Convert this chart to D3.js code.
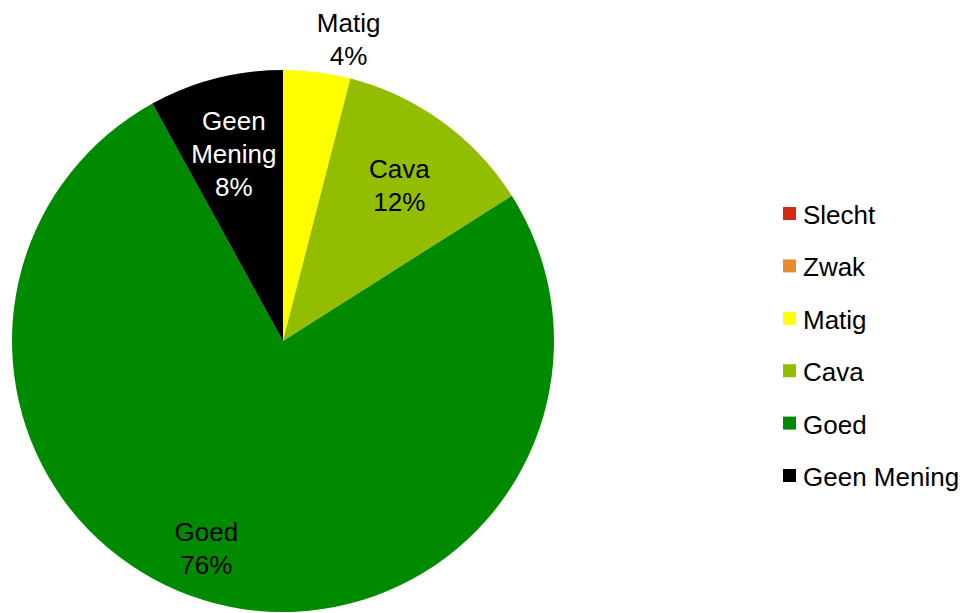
<!DOCTYPE html>
<html>
<head>
<meta charset="utf-8">
<script src="https://cdn.jsdelivr.net/npm/d3@7"></script>
<style>
  body { margin: 0; background: #fff; }
  text { font-family: "Liberation Sans", Arial, sans-serif; }
</style>
</head>
<body>
<script>
var width = 974,
    height = 613;

// data
var categories = ["Slecht", "Zwak", "Matig", "Cava", "Goed", "Geen Mening"];
var values = [0, 0, 4, 12, 76, 8];
var colors = ["#d42a12", "#e98a2c", "#ffff00", "#92bd00", "#008a00", "#000000"];
var labelColors = ["#000", "#000", "#000", "#000", "#000", "#fff"];

var data = categories.map(function(c, i) {
  return { name: c, value: values[i], color: colors[i], labelColor: labelColors[i] };
});

var cx = 283, cy = 341, radius = 271;

var svg = d3.select("body").append("svg")
    .attr("width", width)
    .attr("height", height);

var pie = d3.pie()
    .sort(null)
    .value(function(d) { return d.value; });

var arc = d3.arc()
    .innerRadius(0)
    .outerRadius(radius);

var outerArc = d3.arc()
    .innerRadius(radius + 5)
    .outerRadius(radius + 5);

var arcs = pie(data).filter(function(d) { return d.data.value > 0; });

var g = svg.append("g").attr("transform", "translate(" + cx + "," + cy + ")");

g.selectAll("path.slice")
  .data(arcs)
  .enter().append("path")
    .attr("class", "slice")
    .attr("d", arc)
    .attr("fill", function(d) { return d.data.color; });

var fontSize = 26, lineH = 33;
var total = d3.sum(values);

g.selectAll("text.label")
  .data(arcs)
  .enter().append("text")
    .attr("class", "label")
    .style("font-size", fontSize + "px")
    .attr("fill", function(d) { return d.data.labelColor; })
    .attr("text-anchor", "middle")
    .each(function(d) {
      var t = d3.select(this);
      var pct = Math.round(d.data.value / total * 100) + "%";
      var lines = d.data.name.split(" ").concat([pct]);
      var span = d.endAngle - d.startAngle;
      var x, y0;
      if (span < 0.4) {
        // small slice: label outside, box corner on the rim
        var p = outerArc.centroid(d);
        x = p[0] + 31;
        y0 = p[1] - 2 - (lines.length - 1) * lineH;
      } else {
        // inside label, big slices pushed a bit further round and out
        var a = (d.startAngle + d.endAngle) / 2 + (span > Math.PI ? 0.11 : 0);
        var r = radius * (span > Math.PI ? 0.8 : 0.73);
        x = r * Math.sin(a);
        var yc = -r * Math.cos(a);
        y0 = yc - (lines.length - 1) * lineH / 2 + fontSize * 0.36 + 4;
      }
      lines.forEach(function(l, i) {
        t.append("tspan").attr("x", x).attr("y", y0 + i * lineH).text(l);
      });
    });

// legend
var legendY = d3.scalePoint()
    .domain(categories)
    .range([214, 476]);

var legend = svg.append("g").attr("class", "legend")
  .selectAll("g")
  .data(data)
  .enter().append("g")
    .attr("transform", function(d) { return "translate(783," + legendY(d.name) + ")"; });

legend.append("rect")
    .attr("x", 0)
    .attr("y", -7)
    .attr("width", 13)
    .attr("height", 13)
    .attr("fill", function(d) { return d.color; });

legend.append("text")
    .attr("x", 20)
    .attr("y", 10)
    .style("font-size", "26px")
    .attr("fill", "#000")
    .text(function(d) { return d.name; });
</script>
</body>
</html>
